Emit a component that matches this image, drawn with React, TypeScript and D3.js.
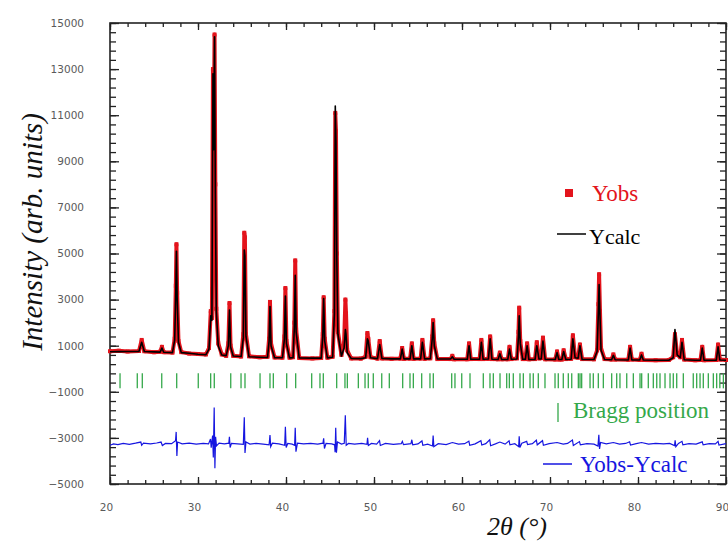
import React, { useEffect, useRef } from "react";
import * as d3 from "d3";

// refinement profile: [2θ, Yobs, Ycalc]
const profile: [number, number, number][] = [
  [20.0, 760, 740], [21.0, 780, 745], [22.0, 750, 750], [23.3, 770, 755],
  [23.6, 1250, 1150], [23.9, 760, 750], [25.0, 720, 730], [25.7, 740, 720],
  [25.9, 950, 900], [26.1, 720, 715], [27.1, 700, 700], [27.35, 1300, 1250],
  [27.48, 3600, 3400], [27.55, 5400, 5100], [27.63, 3300, 3100], [27.78, 1200, 1150],
  [28.1, 720, 700], [29.0, 660, 670], [30.0, 640, 630], [30.9, 620, 610],
  [31.25, 900, 850], [31.45, 2500, 2300], [31.58, 2200, 2100], [31.7, 13000, 12800],
  [31.78, 9000, 9500], [31.88, 14500, 14400], [31.97, 8000, 7600], [32.08, 2600, 2500],
  [32.3, 1100, 1000], [32.7, 620, 600], [33.2, 560, 570], [33.45, 1100, 1000],
  [33.58, 2850, 2550], [33.7, 1000, 950], [34.0, 560, 550], [34.9, 530, 530],
  [35.15, 1500, 1350], [35.26, 5900, 5150], [35.33, 5700, 4900], [35.45, 1500, 1400],
  [35.8, 540, 520], [37.0, 500, 500], [37.9, 520, 490], [38.08, 1300, 1200],
  [38.18, 2900, 2700], [38.3, 1100, 1000], [38.7, 490, 480], [39.6, 480, 480],
  [39.82, 1400, 1300], [39.93, 3500, 3150], [40.05, 1200, 1100], [40.4, 480, 470],
  [40.8, 500, 480], [40.95, 2000, 1800], [41.05, 4700, 4050], [41.15, 1700, 1600],
  [41.5, 470, 470], [43.0, 450, 460], [44.0, 470, 460], [44.18, 1500, 1400],
  [44.28, 3100, 3050], [44.4, 1300, 1200], [44.7, 480, 470], [45.3, 520, 500],
  [45.5, 2500, 2400], [45.6, 11100, 11400], [45.68, 10300, 9800], [45.78, 5000, 4600],
  [45.9, 1600, 1500], [46.3, 600, 550], [46.6, 1100, 900], [46.75, 3000, 1700],
  [46.82, 2400, 1500], [46.95, 800, 700], [47.4, 450, 450], [48.5, 440, 440],
  [49.05, 520, 480], [49.25, 1550, 1300], [49.35, 1300, 1200], [49.6, 500, 480],
  [50.4, 440, 440], [50.65, 1200, 1050], [50.9, 450, 450], [52.0, 430, 430],
  [53.0, 440, 430], [53.2, 900, 850], [53.4, 430, 430], [54.1, 440, 430],
  [54.3, 1100, 1000], [54.5, 430, 430], [55.3, 440, 430], [55.5, 1250, 1150],
  [55.75, 430, 430], [56.4, 450, 440], [56.62, 1400, 1300], [56.72, 2100, 2000],
  [56.85, 1100, 1000], [57.2, 420, 420], [58.7, 420, 420], [58.9, 560, 520],
  [59.1, 410, 410], [60.6, 410, 410], [60.8, 1100, 1000], [61.0, 420, 410],
  [62.0, 420, 410], [62.2, 1250, 1150], [62.4, 420, 410], [63.0, 430, 420],
  [63.2, 1400, 1300], [63.4, 420, 410], [64.1, 410, 400], [64.3, 700, 650],
  [64.5, 410, 400], [65.2, 410, 400], [65.4, 950, 850], [65.6, 420, 410],
  [66.25, 450, 420], [66.42, 1600, 1400], [66.5, 2650, 2300], [66.62, 1200, 1100],
  [66.9, 420, 410], [67.2, 420, 410], [67.4, 1100, 1000], [67.6, 410, 400],
  [68.3, 420, 400], [68.5, 1150, 1000], [68.75, 450, 420], [69.0, 460, 430],
  [69.2, 1350, 1200], [69.45, 410, 400], [70.6, 400, 400], [70.8, 750, 700],
  [71.0, 400, 400], [71.35, 400, 400], [71.55, 800, 750], [71.8, 420, 400],
  [72.4, 430, 410], [72.6, 1450, 1300], [72.85, 500, 480], [73.2, 480, 460],
  [73.4, 1050, 1000], [73.65, 420, 400], [75.0, 410, 400], [75.35, 800, 750],
  [75.5, 2800, 2500], [75.58, 4100, 3650], [75.68, 2500, 2300], [75.8, 900, 800],
  [76.2, 420, 400], [77.0, 400, 390], [77.2, 620, 580], [77.4, 400, 390],
  [78.9, 390, 380], [79.1, 950, 900], [79.3, 400, 380], [80.2, 380, 380],
  [80.4, 650, 600], [80.6, 380, 380], [82.0, 370, 370], [83.5, 380, 370],
  [84.0, 500, 480], [84.2, 1500, 1700], [84.45, 600, 600], [84.8, 500, 480],
  [85.0, 1250, 1150], [85.25, 400, 390], [86.5, 370, 370], [87.1, 380, 370],
  [87.3, 950, 900], [87.5, 370, 370], [88.9, 380, 370], [89.1, 1050, 950],
  [89.3, 400, 380], [90.0, 380, 370],
];

// difference curve Yobs-Ycalc (already shifted down as in the plot)
const diffCurve: [number, number][] = [
  [20.0, -3320], [20.4, -3260], [20.9, -3290], [21.5, -3240], [22.2, -3280], [22.9, -3230],
  [23.5, -3180], [23.6, -3320], [23.8, -3230], [24.6, -3260], [25.3, -3220], [25.8, -3180],
  [25.95, -3330], [26.3, -3240], [27.0, -3250], [27.45, -3120], [27.52, -2740], [27.6, -3780],
  [27.68, -3180], [28.2, -3260], [29.0, -3230], [29.8, -3270], [30.6, -3240], [31.2, -3260],
  [31.42, -3050], [31.5, -3420], [31.66, -2900], [31.74, -3850], [31.84, -1680], [31.92, -4320],
  [32.0, -2950], [32.1, -3350], [32.4, -3230], [33.0, -3260], [33.5, -3230], [33.57, -2950],
  [33.65, -3420], [33.8, -3240], [34.5, -3260], [35.15, -3280], [35.26, -2100], [35.34, -3650],
  [35.45, -3180], [35.9, -3270], [36.6, -3240], [37.4, -3270], [38.08, -3300], [38.18, -2880],
  [38.26, -3380], [38.45, -3230], [39.2, -3260], [39.85, -3320], [39.93, -2520], [40.02, -3420],
  [40.2, -3240], [40.7, -3270], [40.98, -3320], [41.05, -2560], [41.13, -3600], [41.3, -3230],
  [42.0, -3260], [42.8, -3240], [43.6, -3270], [44.2, -3230], [44.28, -3020], [44.37, -3460],
  [44.55, -3240], [45.2, -3260], [45.52, -3300], [45.58, -3620], [45.65, -2560], [45.73, -3640],
  [45.85, -3180], [46.3, -3270], [46.62, -3230], [46.74, -2020], [46.84, -3320], [47.1, -3240],
  [47.8, -3270], [48.6, -3240], [49.2, -3280], [49.27, -3000], [49.36, -3330], [49.7, -3240],
  [50.3, -3270], [50.63, -3120], [50.72, -3330], [51.3, -3240], [52.2, -3280], [53.1, -3250],
  [53.22, -3150], [53.35, -3290], [54.2, -3250], [54.3, -3080], [54.4, -3300], [55.0, -3260],
  [55.45, -3130], [55.55, -3320], [56.1, -3270], [56.65, -3350], [56.72, -2900], [56.8, -3380],
  [57.3, -3250], [58.2, -3290], [58.9, -3200], [59.6, -3270], [60.3, -3250], [60.78, -3140],
  [60.88, -3320], [61.5, -3260], [62.15, -3120], [62.25, -3310], [62.7, -3250], [63.15, -3080],
  [63.25, -3340], [63.8, -3260], [64.3, -3180], [64.9, -3270], [65.35, -3130], [65.45, -3300],
  [66.0, -3250], [66.44, -3380], [66.5, -2930], [66.58, -3420], [66.8, -3230], [67.35, -3150],
  [67.45, -3290], [68.0, -3250], [68.45, -3100], [68.55, -3300], [69.15, -3120], [69.25, -3320],
  [69.9, -3250], [70.8, -3200], [71.5, -3270], [72.0, -3240], [72.55, -3090], [72.65, -3330],
  [73.35, -3160], [73.45, -3300], [74.2, -3250], [75.0, -3270], [75.45, -3350], [75.55, -2870],
  [75.63, -3480], [75.75, -3200], [76.4, -3260], [77.2, -3200], [77.9, -3270], [78.6, -3240],
  [79.05, -3170], [79.15, -3310], [79.8, -3250], [80.4, -3200], [81.2, -3270], [82.0, -3240],
  [82.9, -3260], [83.6, -3240], [84.15, -3330], [84.22, -3100], [84.3, -3380], [84.6, -3240],
  [85.0, -3150], [85.1, -3300], [85.8, -3250], [86.6, -3270], [87.3, -3170], [87.4, -3300],
  [88.1, -3250], [88.8, -3260], [89.1, -3150], [89.2, -3310], [90.0, -3250],
];

const braggPositions: number[] = [
  21.14, 23.1, 23.67, 25.88, 27.58, 30.03, 31.44, 31.85, 33.72, 34.89, 35.34, 37.05,
  38.18, 38.56, 40.08, 41.1, 42.92, 43.86, 44.24, 45.76, 46.7, 46.97, 48.22, 48.98,
  49.35, 49.92, 50.88, 51.74, 53.26, 54.09, 54.47, 55.42, 56.36, 56.74, 58.83, 59.2,
  59.97, 60.91, 62.42, 63.18, 63.56, 64.32, 65.08, 65.38, 65.83, 66.59, 66.97, 67.73,
  68.1, 68.67, 69.43, 70.57, 70.94, 71.51, 72.08, 72.47, 73.22, 73.41, 73.6, 74.55,
  74.92, 75.49, 76.06, 77.01, 77.58, 77.95, 78.72, 79.47, 80.23, 80.42, 81.17, 81.74,
  82.13, 82.5, 83.07, 83.64, 84.01, 84.4, 85.15, 86.28, 86.67, 87.05, 87.42, 87.99,
  88.56, 88.94, 89.3, 89.7,
];

const xTicks = [20, 30, 40, 50, 60, 70, 80, 90];
const yTicks = [-5000, -3000, -1000, 1000, 3000, 5000, 7000, 9000, 11000, 13000, 15000];

const RED = "#e3141c";
const GREEN = "#34a84a";
const BLUE = "#1616e0";

export default function App() {
  const svgRef = useRef<SVGSVGElement>(null);

  useEffect(() => {
    if (!svgRef.current) return;
    const svg = d3.select(svgRef.current);
    svg.selectAll("*").remove();

    const left = 110, right = 726, top = 23, bottom = 484;
    const x = d3.scaleLinear().domain([20, 90]).range([left, right]);
    const y = d3.scaleLinear().domain([-5000, 15000]).range([bottom, top]);

    const minorX = d3.range(20, 90.001, 2);
    const minorY = d3.range(-5000, 15000.001, 400);

    // axes: ticks inside on all four sides
    const styleAxis = (g: any) => {
      g.select(".domain").remove();
      g.selectAll("line").attr("stroke", "#222").attr("stroke-width", 1.3);
      g.selectAll("text")
        .attr("fill", "#5a5a5a")
        .attr("font-family", "DejaVu Sans, Verdana, sans-serif")
        .attr("font-size", 10.5);
    };

    svg.append("g").attr("transform", `translate(0,${bottom})`)
      .call(d3.axisBottom(x).tickValues(minorX).tickSize(-4).tickFormat(() => "") as any).call(styleAxis);
    const xAxisG = svg.append("g").attr("transform", `translate(0,${bottom})`)
      .call(d3.axisBottom(x).tickValues(xTicks).tickSize(-7).tickPadding(20).tickFormat(d3.format("d")) as any)
      .call(styleAxis);
    // labels sit a little left of their ticks in the original
    xAxisG.selectAll("text").attr("dx", -4);
    svg.append("g").attr("transform", `translate(0,${top})`)
      .call(d3.axisTop(x).tickValues(minorX).tickSize(-4).tickFormat(() => "") as any).call(styleAxis);
    svg.append("g").attr("transform", `translate(0,${top})`)
      .call(d3.axisTop(x).tickValues(xTicks).tickSize(-7).tickFormat(() => "") as any).call(styleAxis);

    svg.append("g").attr("transform", `translate(${left},0)`)
      .call(d3.axisLeft(y).tickValues(minorY).tickSize(-6).tickFormat(() => "") as any).call(styleAxis);
    svg.append("g").attr("transform", `translate(${left},0)`)
      .call(d3.axisLeft(y).tickValues(yTicks).tickSize(-9).tickPadding(26).tickFormat(d3.format("d")) as any)
      .call(styleAxis);
    svg.append("g").attr("transform", `translate(${right},0)`)
      .call(d3.axisRight(y).tickValues(minorY).tickSize(-6).tickFormat(() => "") as any).call(styleAxis);
    svg.append("g").attr("transform", `translate(${right},0)`)
      .call(d3.axisRight(y).tickValues(yTicks).tickSize(-9).tickFormat(() => "") as any).call(styleAxis);

    // frame
    svg.append("rect")
      .attr("x", left).attr("y", top)
      .attr("width", right - left).attr("height", bottom - top)
      .attr("fill", "none").attr("stroke", "#222").attr("stroke-width", 1.6);

    // Yobs: dense red squares rendered as a thick band plus markers
    const obsLine = d3.line<[number, number, number]>().x((d) => x(d[0])).y((d) => y(d[1]));
    svg.append("path").datum(profile)
      .attr("d", obsLine).attr("fill", "none")
      .attr("stroke", RED).attr("stroke-width", 4).attr("stroke-linejoin", "round");
    svg.append("g").selectAll("rect").data(profile).join("rect")
      .attr("x", (d) => x(d[0]) - 2).attr("y", (d) => y(d[1]) - 2)
      .attr("width", 4).attr("height", 4).attr("fill", RED);

    // Ycalc
    const calcLine = d3.line<[number, number, number]>().x((d) => x(d[0])).y((d) => y(d[2]));
    svg.append("path").datum(profile)
      .attr("d", calcLine).attr("fill", "none")
      .attr("stroke", "#000").attr("stroke-width", 1.6).attr("stroke-linejoin", "round");

    // Bragg positions
    svg.append("g").selectAll("line").data(braggPositions).join("line")
      .attr("x1", (d) => x(d)).attr("x2", (d) => x(d))
      .attr("y1", y(-200)).attr("y2", y(-850))
      .attr("stroke", GREEN).attr("stroke-width", 1.3);

    // difference
    const diffLine = d3.line<[number, number]>().x((d) => x(d[0])).y((d) => y(d[1]));
    svg.append("path").datum(diffCurve)
      .attr("d", diffLine).attr("fill", "none")
      .attr("stroke", BLUE).attr("stroke-width", 1.2);

    // legend
    const serif = "Liberation Serif, Times New Roman, serif";
    svg.append("rect").attr("x", 565).attr("y", 189).attr("width", 8).attr("height", 8).attr("fill", RED);
    svg.append("text").attr("x", 592).attr("y", 201).text("Yobs")
      .attr("font-family", serif).attr("font-size", 23).attr("fill", RED);

    svg.append("line").attr("x1", 557).attr("x2", 586).attr("y1", 234).attr("y2", 234)
      .attr("stroke", "#000").attr("stroke-width", 1.5);
    svg.append("text").attr("x", 589).attr("y", 244).text("Ycalc")
      .attr("font-family", serif).attr("font-size", 22).attr("fill", "#000");

    svg.append("line").attr("x1", 558).attr("x2", 558).attr("y1", 403).attr("y2", 422)
      .attr("stroke", GREEN).attr("stroke-width", 1.3);
    svg.append("text").attr("x", 573).attr("y", 418).text("Bragg position")
      .attr("font-family", serif).attr("font-size", 23).attr("fill", GREEN);

    svg.append("line").attr("x1", 543).attr("x2", 572).attr("y1", 464).attr("y2", 464)
      .attr("stroke", BLUE).attr("stroke-width", 1.5);
    svg.append("text").attr("x", 580).attr("y", 472).text("Yobs-Ycalc")
      .attr("font-family", serif).attr("font-size", 23).attr("fill", BLUE);

    // axis titles
    svg.append("text")
      .attr("transform", "translate(42,232) rotate(-90)")
      .attr("text-anchor", "middle")
      .attr("font-family", serif).attr("font-style", "italic").attr("font-size", 29)
      .attr("fill", "#111")
      .text("Intensity (arb. units)");
    svg.append("text")
      .attr("x", 517).attr("y", 535).attr("text-anchor", "middle")
      .attr("font-family", serif).attr("font-style", "italic").attr("font-size", 26)
      .attr("fill", "#111")
      .text("2θ (°)");
  }, []);

  return (
    <svg
      ref={svgRef}
      width={728}
      height={542}
      style={{ position: "absolute", left: 0, top: 0, background: "#fff" }}
    />
  );
}
